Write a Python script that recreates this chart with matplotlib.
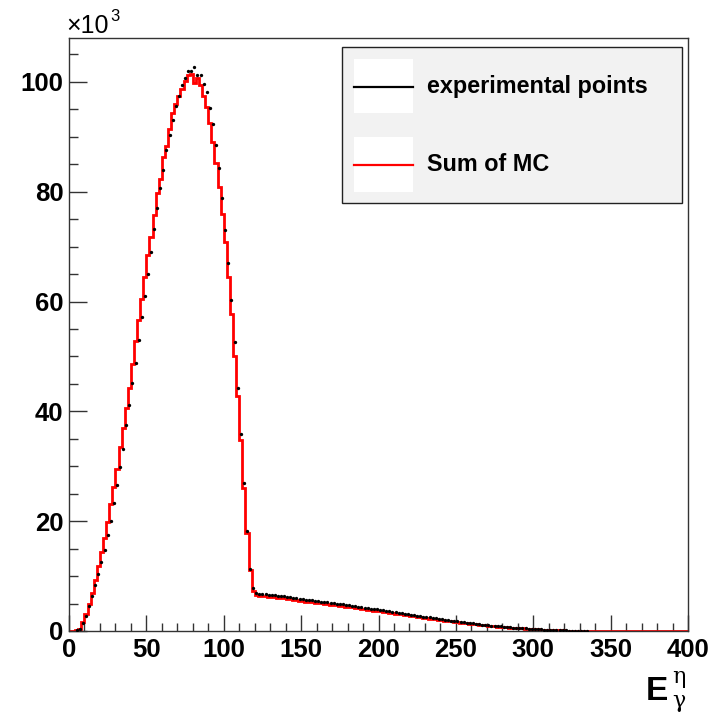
import numpy as np
import matplotlib
matplotlib.use("Agg")
import matplotlib.pyplot as plt
from matplotlib.patches import Rectangle
from matplotlib.lines import Line2D
from matplotlib.ticker import MultipleLocator

# ---------------- data (thousands of counts, 2-unit bins from 0 to 400) -------------
bin_lo, bin_hi, bin_w = 0, 400, 2

mc_k = [
    0.0, 0.0, 0.1, 0.36, 1.6, 3.1, 4.9, 7.0, 9.3, 11.9,
    14.4, 16.9, 19.8, 23.2, 26.3, 29.5, 33.5, 37.0, 40.6, 44.3,
    48.7, 52.8, 56.6, 60.5, 64.5, 68.4, 71.7, 75.8, 79.7, 82.4,
    86.3, 88.3, 91.4, 94.3, 96.0, 97.5, 98.8, 100.1, 101.3, 101.5,
    99.8, 100.8, 99.5, 97.4, 95.5, 92.6, 89.1, 85.2, 80.8, 76.0,
    70.9, 64.4, 57.8, 50.1, 42.8, 34.7, 26.0, 17.9, 11.1, 7.2,
    6.6, 6.45,
    6.40, 6.33, 6.27, 6.20, 6.15, 6.08, 6.02, 5.95, 5.88, 5.80,
    5.70, 5.62, 5.48, 5.40, 5.35, 5.28, 5.22, 5.15, 5.08, 5.02,
    4.95, 4.88, 4.82, 4.75, 4.68, 4.60, 4.52, 4.45, 4.37, 4.30,
    4.20, 4.10, 3.98, 3.92, 3.85, 3.78, 3.70, 3.63, 3.56, 3.48,
    3.40, 3.33, 3.25, 3.18, 3.10, 3.02, 2.93, 2.85, 2.76, 2.68,
    2.60, 2.52, 2.43, 2.35, 2.27, 2.20, 2.12, 2.05, 1.98, 1.90,
    1.82, 1.75, 1.67, 1.60, 1.53, 1.46, 1.39, 1.32, 1.25, 1.19,
    1.13, 1.07, 1.01, 0.96, 0.91, 0.86, 0.81, 0.76, 0.71, 0.66,
    0.62, 0.58, 0.54, 0.50, 0.46, 0.43, 0.39, 0.36, 0.33, 0.30,
    0.27, 0.24, 0.21, 0.19, 0.16, 0.14, 0.12, 0.10, 0.08, 0.07,
    0.05, 0.04, 0.03, 0.02, 0.02, 0.01,
] + [0.0] * 32

data_k = [
    0.0, 0.0, 0.1, 0.4, 1.4, 2.8, 4.5, 6.3, 8.3, 10.4,
    12.5, 14.8, 17.5, 20.1, 23.4, 26.5, 29.8, 33.2, 37.5, 41.1,
    45.2, 48.8, 53.0, 57.2, 61.0, 65.0, 69.1, 73.2, 77.1, 80.6,
    83.9, 87.6, 90.4, 93.1, 95.7, 97.5, 99.4, 100.7, 102.0, 102.0,
    102.8, 101.3, 101.3, 99.6, 98.1, 95.2, 92.4, 88.5, 84.4, 78.9,
    73.0, 67.1, 60.2, 52.6, 44.2, 35.9, 27.0, 18.3, 11.3, 7.8,
    6.9, 6.7,
    6.75, 6.68, 6.62, 6.56, 6.50, 6.42, 6.36, 6.30, 6.22, 6.12,
    6.05, 5.95, 5.86, 5.78, 5.72, 5.65, 5.58, 5.50, 5.44, 5.36,
    5.29, 5.22, 5.15, 5.08, 5.00, 4.93, 4.85, 4.78, 4.70, 4.62,
    4.52, 4.42, 4.33, 4.25, 4.16, 4.08, 4.00, 3.92, 3.84, 3.76,
    3.67, 3.58, 3.50, 3.42, 3.33, 3.24, 3.15, 3.06, 2.97, 2.88,
    2.79, 2.70, 2.62, 2.54, 2.46, 2.38, 2.30, 2.22, 2.14, 2.06,
    1.98, 1.90, 1.82, 1.74, 1.67, 1.59, 1.52, 1.45, 1.38, 1.31,
    1.24, 1.18, 1.12, 1.06, 1.00, 0.94, 0.88, 0.83, 0.78, 0.73,
    0.68, 0.63, 0.59, 0.55, 0.51, 0.47, 0.43, 0.40, 0.36, 0.33,
    0.30, 0.27, 0.24, 0.21, 0.18, 0.16, 0.14, 0.12, 0.10, 0.08,
    0.07, 0.05, 0.04, 0.03, 0.02, 0.01,
] + [0.0] * 32

x_ticks = [0, 50, 100, 150, 200, 250, 300, 350, 400]
y_ticks = [0, 20, 40, 60, 80, 100]
legend_labels = ["experimental points", "Sum of MC"]

# ---------------- figure ----------------
W, H = 725, 715
fig = plt.figure(figsize=(W / 100, H / 100), dpi=100, facecolor="white")

def fx(px):
    return px / W

def fy(py):
    return 1 - py / H

ax_l, ax_r, ax_t, ax_b = 69, 688, 38, 631
ax = fig.add_axes([fx(ax_l), fy(ax_b), fx(ax_r - ax_l), (ax_b - ax_t) / H])

edges = np.arange(bin_lo, bin_hi + bin_w, bin_w)
centers = edges[:-1] + bin_w / 2
mc = np.array(mc_k)
dat = np.array(data_k)

ax.stairs(mc, edges, color="#ff0000", lw=2.0, baseline=0, zorder=2)
mask = dat > 0
ax.plot(centers[mask], dat[mask], "o", ms=2.4, color="black", mec="none", zorder=3)

ax.set_xlim(0, 400)
ax.set_ylim(0, 108)

font = "Liberation Sans"
ax.set_xticks(x_ticks)
ax.set_yticks(y_ticks)
ax.set_xticklabels([str(v) for v in x_ticks], fontfamily=font, fontweight="bold", fontsize=18.5)
ax.set_yticklabels([str(v) for v in y_ticks], fontfamily=font, fontweight="bold", fontsize=18.5)
ax.xaxis.set_minor_locator(MultipleLocator(10))
ax.yaxis.set_minor_locator(MultipleLocator(5))
ax.tick_params(axis="x", which="major", direction="in", length=11.5, width=1, color="#333333", pad=5,
               top=False, bottom=True)
ax.tick_params(axis="x", which="minor", direction="in", length=5.8, width=1, color="#333333",
               top=False, bottom=True)
ax.tick_params(axis="y", which="major", direction="in", length=13, width=1, color="#333333", pad=4,
               left=True, right=False)
ax.tick_params(axis="y", which="minor", direction="in", length=6.5, width=1, color="#333333",
               left=True, right=False)
for sp in ax.spines.values():
    sp.set_color("#333333")
    sp.set_linewidth(1.0)

# ---------------- x10^3 multiplier ----------------
fig.text(fx(66), fy(33), "×10", fontfamily=font, fontsize=18, ha="left", va="baseline")
fig.text(fx(110), fy(21), "3", fontfamily=font, fontsize=12, ha="left", va="baseline")

# ---------------- axis title ----------------
fig.text(fx(668), fy(700), "E", fontfamily=font, fontweight="bold", fontsize=24, ha="right", va="baseline")
fig.text(fx(672), fy(683), "η", fontfamily="DejaVu Serif", fontsize=16, ha="left", va="baseline")
fig.text(fx(672), fy(707), "γ", fontfamily="DejaVu Serif", fontsize=16, ha="left", va="baseline")

# ---------------- legend ----------------
lg_l, lg_r, lg_t, lg_b = 342, 682, 47, 203
fig.patches.append(Rectangle((fx(lg_l), fy(lg_b)), fx(lg_r - lg_l), (lg_b - lg_t) / H,
                             transform=fig.transFigure, facecolor="#f2f2f2",
                             edgecolor="#222222", lw=1.0, zorder=5))
rows = [(59, 113, 86.5, "black"), (137, 192, 164.5, "#ff0000")]
for (t, b, yc, col), lab in zip(rows, legend_labels):
    fig.patches.append(Rectangle((fx(354), fy(b)), fx(59), (b - t) / H,
                                 transform=fig.transFigure, facecolor="white",
                                 edgecolor="none", zorder=6))
    fig.lines.append(Line2D([fx(354), fx(413)], [fy(yc), fy(yc)], transform=fig.transFigure,
                            color=col, lw=1.6, zorder=7))
    fig.text(fx(427), fy(yc), lab, fontfamily=font, fontweight="bold", fontsize=16.8,
             ha="left", va="center", zorder=8)

fig.savefig("out.png", dpi=100, facecolor="white")
